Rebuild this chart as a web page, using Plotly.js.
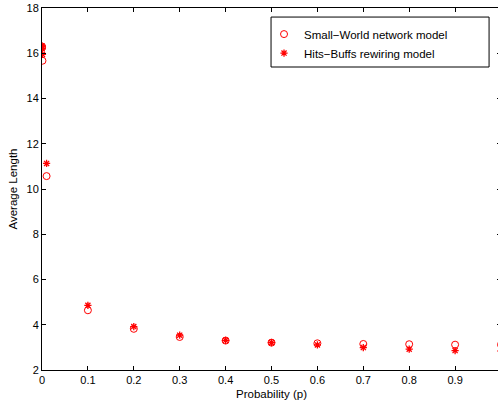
<!DOCTYPE html>
<html>
<head>
<meta charset="utf-8">
<script src="https://cdn.plot.ly/plotly-3.0.1.min.js"></script>
<style>
html,body{margin:0;padding:0;overflow:hidden;background:#fff;}
#chart{width:501px;height:404px;}
</style>
</head>
<body>
<div id="chart"></div>
<script>
// Rewiring probability
var probability = [0, 0.0001, 0.001, 0.01, 0.1, 0.2, 0.3, 0.4, 0.5, 0.6, 0.7, 0.8, 0.9, 1.0];
// Average path length, Small-World network model
var smallWorld = [16.3, 16.25, 15.67, 10.57, 4.64, 3.82, 3.46, 3.30, 3.21, 3.18, 3.15, 3.14, 3.12, 3.12];
// Average path length, Hits-Buffs rewiring model
var hitsBuffs = [16.32, 16.2, 15.95, 11.13, 4.86, 3.92, 3.54, 3.31, 3.21, 3.11, 2.99, 2.92, 2.86, 2.84];

var xTickVals = [0, 0.1, 0.2, 0.3, 0.4, 0.5, 0.6, 0.7, 0.8, 0.9, 1];
var xTickText = ['0', '0.1', '0.2', '0.3', '0.4', '0.5', '0.6', '0.7', '0.8', '0.9', '1'];
var yTickVals = [2, 4, 6, 8, 10, 12, 14, 16, 18];

var FONT = 'Liberation Sans, Arial, Helvetica, sans-serif';

var traces = [
  {
    x: probability, y: smallWorld, type: 'scatter', mode: 'markers',
    name: 'Small\u2212World network model',
    marker: {symbol: 'circle-open', size: 7, color: '#ff0000', line: {color: '#ff0000', width: 1}}
  },
  {
    x: probability, y: hitsBuffs, type: 'scatter', mode: 'markers',
    name: 'Hits\u2212Buffs rewiring model',
    marker: {symbol: 'asterisk-open', size: 6, color: '#ff0000', line: {color: '#ff0000', width: 1.3}}
  }
];

var axisCommon = {
  showgrid: false, zeroline: false, showline: true, linecolor: '#000', linewidth: 1,
  mirror: 'ticks', ticks: 'inside', ticklen: 4, tickcolor: '#000', tickwidth: 1,
  tickfont: {family: FONT, size: 11, color: '#000'}, automargin: false
};

var layout = {
  width: 501, height: 404,
  margin: {l: 42, r: 0, t: 8, b: 34, pad: 0},
  paper_bgcolor: '#fff', plot_bgcolor: '#fff',
  font: {family: FONT, size: 11, color: '#000'},
  showlegend: true,
  legend: {
    x: 0.4837, xanchor: 'left', y: 0.968, yanchor: 'top',
    borderwidth: 0, bgcolor: 'rgba(0,0,0,0)',
    font: {family: FONT, size: 11.5, color: '#000'},
    tracegroupgap: 0
  },
  shapes: [{
    type: 'rect', xref: 'paper', yref: 'paper',
    x0: 0.499, x1: 0.974, y0: 0.837, y1: 0.975,
    line: {color: '#000', width: 1}, fillcolor: '#fff', layer: 'above'
  }],
  xaxis: Object.assign({}, axisCommon, {
    range: [0, 1], tickmode: 'array', tickvals: xTickVals, ticktext: xTickText,
    title: {text: 'Probability (p)', font: {family: FONT, size: 11.5, color: '#000'}, standoff: 4}
  }),
  yaxis: Object.assign({}, axisCommon, {
    range: [2, 18], tickmode: 'array', tickvals: yTickVals,
    title: {text: 'Average Length', font: {family: FONT, size: 11.5, color: '#000'}, standoff: 6}
  })
};

Plotly.newPlot('chart', traces, layout, {displayModeBar: false, staticPlot: true});
</script>
</body>
</html>
